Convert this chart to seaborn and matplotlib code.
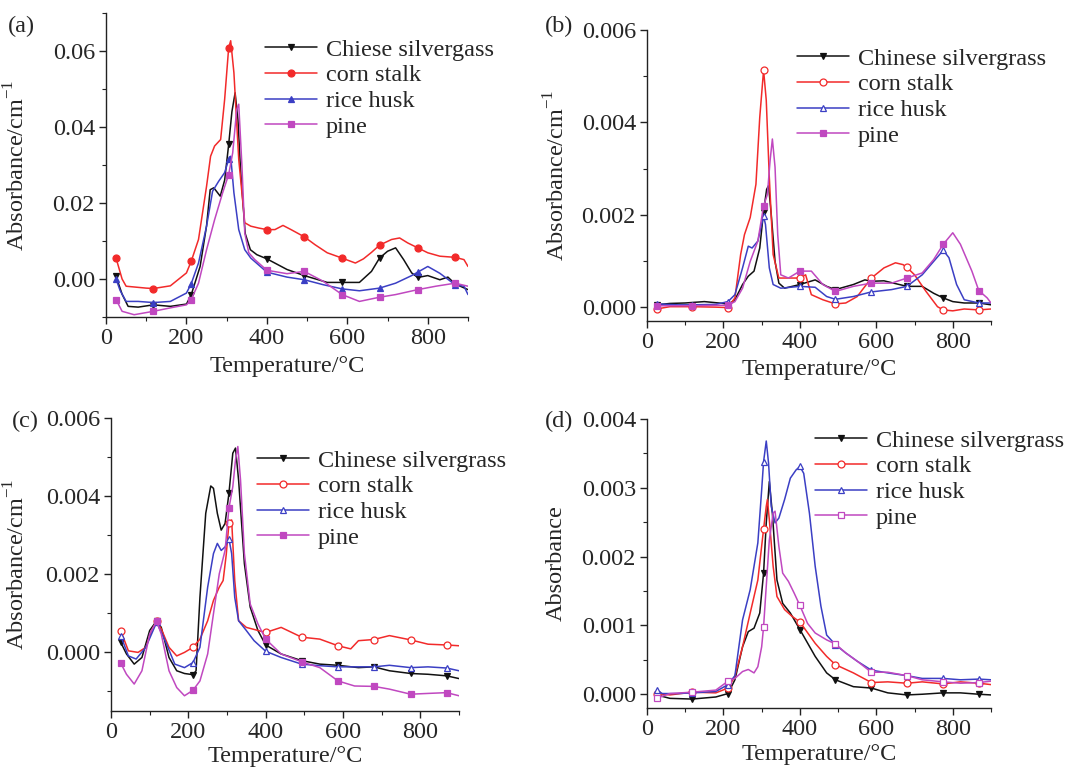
import numpy as np
import matplotlib
matplotlib.use("Agg")
import matplotlib.pyplot as plt
from matplotlib.lines import Line2D
from matplotlib.ticker import MultipleLocator, FormatStrFormatter
import seaborn as sns

sns.set_style("ticks")
plt.rcParams['font.family'] = ['Liberation Serif', 'DejaVu Serif']
plt.rcParams['mathtext.fontset'] = 'custom'
plt.rcParams['mathtext.rm'] = 'Liberation Serif'

MARKER_T = [25, 118, 212, 305, 400, 493, 587, 680, 775, 868]
series_names_a = ["Chiese silvergass", "corn stalk", "rice husk", "pine"]
series_names = ["Chinese silvergrass", "corn stalk", "rice husk", "pine"]

# ---------------- panel (a) ----------------
a_silver_T = [25, 40, 55, 80, 118, 160, 200, 212, 234, 250, 259, 268, 284, 295, 305, 313, 321, 328, 334, 346, 359, 375, 400, 450, 493, 550, 587, 630, 660, 680, 700, 720, 740, 760, 775, 800, 830, 850, 868, 900]
a_silver = [0.0007, -0.004, -0.0072, -0.0074, -0.0068, -0.0072, -0.0066, -0.0041, 0.0033, 0.014, 0.0235, 0.024, 0.0218, 0.026, 0.0354, 0.044, 0.049, 0.042, 0.0297, 0.012, 0.0077, 0.0064, 0.0053, 0.0025, 0.0009, -0.0009, -0.0009, -0.0009, 0.002, 0.0055, 0.0073, 0.0082, 0.0051, 0.0016, 0.0004, 0.0009, -0.0002, 0.0005, -0.0013, -0.0028]
a_corn_T = [25, 40, 50, 100, 118, 160, 200, 212, 230, 250, 260, 270, 285, 295, 305, 310, 318, 330, 345, 360, 380, 400, 420, 440, 460, 493, 520, 550, 587, 620, 640, 660, 680, 710, 730, 750, 775, 800, 830, 868, 890, 900]
a_corn = [0.0055, 0.000, -0.0019, -0.0024, -0.0025, -0.0018, 0.0016, 0.0047, 0.0104, 0.0244, 0.0323, 0.035, 0.0367, 0.0473, 0.0609, 0.0627, 0.0543, 0.0315, 0.0148, 0.0139, 0.0134, 0.013, 0.013, 0.0141, 0.013, 0.0111, 0.009, 0.0069, 0.0055, 0.0042, 0.0053, 0.007, 0.0089, 0.0104, 0.0108, 0.0095, 0.0082, 0.0069, 0.006, 0.0057, 0.0051, 0.0033]
a_rice_T = [25, 35, 50, 80, 118, 160, 200, 212, 230, 250, 265, 280, 295, 305, 310, 318, 330, 345, 360, 400, 450, 493, 540, 587, 630, 680, 720, 760, 775, 800, 830, 868, 890, 900]
a_rice = [0.0, -0.003, -0.0059, -0.0059, -0.0062, -0.0059, -0.0037, -0.0012, 0.0042, 0.0139, 0.0231, 0.0257, 0.028, 0.0315, 0.0323, 0.0227, 0.013, 0.0077, 0.0055, 0.0018, 0.0005, -0.0002, -0.0015, -0.0026, -0.0031, -0.0024, -0.0011, 0.0009, 0.0018, 0.0033, 0.0015, -0.0015, -0.0019, -0.0041]
a_pine_T = [25, 40, 70, 118, 160, 200, 212, 230, 250, 270, 290, 305, 315, 325, 330, 338, 345, 355, 370, 400, 450, 493, 540, 587, 630, 680, 720, 775, 820, 868, 900]
a_pine = [-0.0054, -0.0085, -0.0094, -0.0085, -0.0076, -0.0068, -0.0054, -0.0011, 0.0077, 0.0156, 0.0227, 0.0275, 0.0332, 0.0446, 0.046, 0.0297, 0.0121, 0.0069, 0.0051, 0.0023, 0.0014, 0.002, -0.0006, -0.0041, -0.0059, -0.0048, -0.0041, -0.0028, -0.0019, -0.0011, -0.0019]

# ---------------- panel (b) ----------------
b_silver_T = [25, 60, 100, 150, 200, 212, 230, 250, 265, 280, 295, 305, 313, 318, 325, 335, 345, 360, 400, 440, 470, 493, 540, 570, 587, 620, 680, 720, 750, 775, 800, 830, 868, 900]
b_silver = [0.00005, 0.00008, 0.00009, 0.00012, 0.00008, 0.00005, 0.00016, 0.00049, 0.00067, 0.00078, 0.00128, 0.00207, 0.00255, 0.00263, 0.00201, 0.00099, 0.00052, 0.00041, 0.00049, 0.00059, 0.00045, 0.00038, 0.00049, 0.00059, 0.00056, 0.00057, 0.00045, 0.00045, 0.0003, 0.0002, 0.00012, 0.00009, 0.00009, 0.00005]
b_corn_T = [25, 60, 118, 180, 212, 230, 245, 255, 270, 285, 295, 305, 312, 320, 330, 345, 370, 400, 415, 430, 460, 493, 520, 550, 587, 620, 650, 670, 680, 700, 730, 760, 775, 800, 830, 868, 900]
b_corn = [-0.00004, 0.00001, 0.00001, 0.0, -0.00001, 0.0002, 0.00114, 0.00157, 0.00194, 0.00266, 0.00411, 0.00513, 0.00448, 0.00281, 0.00114, 0.00063, 0.00063, 0.00063, 0.0007, 0.00027, 0.00016, 0.00007, 0.00009, 0.00023, 0.00063, 0.00085, 0.00096, 0.00092, 0.00086, 0.0007, 0.00034, 0.00001, -0.00006, -0.00008, -0.00004, -0.00006, -0.00004]
b_rice_T = [25, 80, 118, 180, 212, 230, 250, 265, 275, 290, 305, 310, 320, 330, 350, 400, 440, 470, 493, 540, 587, 640, 680, 720, 750, 775, 790, 810, 830, 868, 900]
b_rice = [0.00007, 0.00005, 0.00005, 0.00006, 0.00012, 0.00027, 0.00085, 0.00132, 0.00128, 0.00143, 0.00197, 0.00179, 0.00085, 0.00049, 0.00041, 0.00045, 0.00043, 0.00023, 0.00017, 0.00023, 0.00033, 0.00038, 0.00045, 0.0007, 0.00099, 0.00123, 0.00107, 0.00049, 0.00016, 0.00009, 0.00009]
b_pine_T = [25, 80, 118, 180, 212, 230, 250, 270, 290, 305, 315, 322, 328, 335, 342, 350, 370, 400, 430, 460, 493, 540, 587, 640, 680, 720, 750, 775, 800, 820, 850, 868, 890, 900]
b_pine = [0.00003, 0.00003, 0.00003, 0.00004, 0.00004, 0.00012, 0.00041, 0.00099, 0.00143, 0.00219, 0.00244, 0.00317, 0.00364, 0.00303, 0.00157, 0.0007, 0.00063, 0.00078, 0.00078, 0.00049, 0.00034, 0.00045, 0.00052, 0.00052, 0.00063, 0.00074, 0.00103, 0.00136, 0.00161, 0.00136, 0.00078, 0.00036, 0.0002, 0.00009]

# ---------------- panel (c) ----------------
c_silver_T = [25, 40, 60, 80, 100, 118, 130, 150, 170, 190, 212, 220, 230, 245, 258, 265, 275, 285, 295, 305, 315, 322, 330, 345, 360, 380, 400, 440, 493, 540, 587, 640, 680, 720, 775, 820, 868, 900]
c_silver = [0.00026, -0.00004, -0.0003, -0.00013, 0.00056, 0.00081, 0.00064, -0.00013, -0.00047, -0.00054, -0.00057, -0.00047, 0.00141, 0.00356, 0.00426, 0.0042, 0.00356, 0.00313, 0.0033, 0.00407, 0.0051, 0.00523, 0.00441, 0.00227, 0.00116, 0.00056, 0.00019, -0.00004, -0.00021, -0.0003, -0.00033, -0.00039, -0.00037, -0.00047, -0.00054, -0.00056, -0.0006, -0.00067]
c_corn_T = [25, 45, 70, 90, 105, 118, 130, 150, 170, 190, 212, 230, 250, 265, 280, 290, 298, 305, 312, 320, 330, 350, 400, 440, 493, 540, 587, 620, 640, 680, 720, 775, 820, 868, 900]
c_corn = [0.00056, 0.00004, 0.0, 0.00013, 0.00056, 0.0008, 0.0006, 0.00013, -0.00009, 0.0, 0.00013, 0.00034, 0.00081, 0.00133, 0.00167, 0.00184, 0.0025, 0.0033, 0.00339, 0.00184, 0.00081, 0.00064, 0.00051, 0.00064, 0.00039, 0.00034, 0.00017, 0.00009, 0.0003, 0.00033, 0.00043, 0.00032, 0.00021, 0.00019, 0.00017]
c_rice_T = [25, 45, 65, 90, 118, 140, 165, 190, 212, 230, 250, 265, 275, 285, 295, 305, 312, 320, 330, 350, 370, 400, 440, 493, 540, 587, 640, 680, 720, 775, 820, 868, 900]
c_rice = [0.00043, -0.00009, -0.00017, 0.00013, 0.00077, 0.0003, -0.0003, -0.00039, -0.00026, 0.00013, 0.00167, 0.00253, 0.00279, 0.00261, 0.0027, 0.00291, 0.00253, 0.00141, 0.00081, 0.00056, 0.0003, 0.00003, -0.00013, -0.0003, -0.00034, -0.00037, -0.00037, -0.00037, -0.00033, -0.00039, -0.00037, -0.0004, -0.00047]
c_pine_T = [25, 40, 60, 80, 100, 118, 130, 150, 170, 190, 212, 230, 250, 265, 280, 295, 305, 315, 322, 328, 335, 345, 360, 380, 400, 440, 493, 540, 587, 630, 680, 720, 775, 820, 868, 900]
c_pine = [-0.00027, -0.00056, -0.00081, -0.00047, 0.00047, 0.0008, 0.00047, -0.00047, -0.0009, -0.00111, -0.00097, -0.00073, -0.00004, 0.00099, 0.00201, 0.00261, 0.00369, 0.00424, 0.00493, 0.00527, 0.00441, 0.00253, 0.00124, 0.00073, 0.00034, -0.00004, -0.00024, -0.00039, -0.00073, -0.00086, -0.00087, -0.00094, -0.00107, -0.00105, -0.00103, -0.00111]

# ---------------- panel (d) ----------------
d_silver_T = [25, 60, 118, 180, 212, 230, 250, 265, 280, 295, 305, 312, 320, 328, 340, 355, 375, 400, 440, 470, 493, 540, 587, 630, 680, 720, 775, 820, 868, 900]
d_silver = [-0.00001, -0.00006, -0.00007, -0.00004, 0.00001, 0.00021, 0.00069, 0.00091, 0.00096, 0.00118, 0.00176, 0.00249, 0.00309, 0.00263, 0.00166, 0.00132, 0.00118, 0.00094, 0.00055, 0.00031, 0.00021, 0.00011, 0.00009, 0.00002, -0.00001, 0.0, 0.00002, 0.00002, 0.0, -0.00001]
d_corn_T = [25, 60, 118, 180, 212, 230, 250, 270, 290, 305, 312, 315, 320, 330, 340, 360, 380, 400, 440, 470, 493, 540, 587, 630, 680, 720, 775, 820, 868, 900]
d_corn = [0.00001, -0.00001, 0.00003, 0.00002, 0.00009, 0.00026, 0.00069, 0.00118, 0.00166, 0.0024, 0.00273, 0.00283, 0.00254, 0.00186, 0.00142, 0.00123, 0.00113, 0.00105, 0.00074, 0.00055, 0.00043, 0.00031, 0.00017, 0.00018, 0.00016, 0.00018, 0.00015, 0.00018, 0.00016, 0.00014]
d_rice_T = [25, 40, 80, 118, 180, 212, 230, 250, 270, 290, 300, 305, 312, 318, 325, 335, 345, 360, 375, 390, 400, 410, 425, 440, 455, 470, 493, 520, 550, 587, 630, 680, 720, 775, 820, 868, 900]
d_rice = [0.00006, 0.00001, 0.00001, 0.00002, 0.00004, 0.00014, 0.00027, 0.00108, 0.00152, 0.0022, 0.00297, 0.00338, 0.00368, 0.00336, 0.00273, 0.00249, 0.00256, 0.00283, 0.00314, 0.00326, 0.00331, 0.00321, 0.00263, 0.00186, 0.00128, 0.00086, 0.00072, 0.0006, 0.00048, 0.00035, 0.00031, 0.00027, 0.00023, 0.00023, 0.00021, 0.00022, 0.00021]
d_pine_T = [25, 60, 118, 180, 212, 230, 250, 265, 280, 290, 300, 305, 312, 320, 330, 335, 345, 355, 370, 385, 400, 420, 440, 470, 493, 520, 550, 587, 630, 680, 720, 775, 820, 868, 900]
d_pine = [-0.00006, 0.00001, 0.00003, 0.00006, 0.00019, 0.00023, 0.00033, 0.00036, 0.00031, 0.0004, 0.00069, 0.00098, 0.00157, 0.00224, 0.00263, 0.00266, 0.00215, 0.00176, 0.00164, 0.00147, 0.00129, 0.00103, 0.00089, 0.00079, 0.00073, 0.0006, 0.00048, 0.00032, 0.00032, 0.00027, 0.00021, 0.00018, 0.00016, 0.00017, 0.00019]

COLORS = ["#111111", "#F22A2A", "#3B3FC4", "#C048C0"]
MARKERS = ["v", "o", "^", "s"]
# fill style per panel: True = filled
FILLED = {
    "a": [True, True, True, True],
    "b": [True, False, False, True],
    "c": [True, False, False, True],
    "d": [True, False, False, False],
}

fig = plt.figure(figsize=(10.71, 7.67), dpi=100)
W, H = 1071, 767


def add_ax(l, r, b, t):
    return fig.add_axes([l / W, 1 - b / H, (r - l) / W, (b - t) / H])


panels = {
    "a": dict(box=(106, 468, 317, 13), ylim=(-0.01, 0.07), major=0.02, fmt="%.2f",
              data=[(a_silver_T, a_silver), (a_corn_T, a_corn), (a_rice_T, a_rice), (a_pine_T, a_pine)],
              names=series_names_a, ylabel=r"Absorbance/cm$^{\mathregular{-1}}$",
              ylab_x=-0.21, leg=(255, 29), tag=(8, 26), xpad=5),
    "b": dict(box=(647, 991, 321, 30), ylim=(-0.0003, 0.006), major=0.002, fmt="%.3f",
              data=[(b_silver_T, b_silver), (b_corn_T, b_corn), (b_rice_T, b_rice), (b_pine_T, b_pine)],
              names=series_names, ylabel=r"Absorbance/cm$^{\mathregular{-1}}$",
              ylab_x=-0.224, leg=(787, 38), tag=(545, 26), xpad=4),
    "c": dict(box=(111, 459, 711, 418), ylim=(-0.0015, 0.006), major=0.002, fmt="%.3f",
              data=[(c_silver_T, c_silver), (c_corn_T, c_corn), (c_rice_T, c_rice), (c_pine_T, c_pine)],
              names=series_names, ylabel=r"Absorbance/cm$^{\mathregular{-1}}$",
              ylab_x=-0.235, leg=(247, 440), tag=(12, 421), xpad=2),
    "d": dict(box=(647, 991, 708, 419), ylim=(-0.0002, 0.004), major=0.001, fmt="%.3f",
              data=[(d_silver_T, d_silver), (d_corn_T, d_corn), (d_rice_T, d_rice), (d_pine_T, d_pine)],
              names=series_names, ylabel="Absorbance",
              ylab_x=-0.232, leg=(805, 420), tag=(545, 421), xpad=3),
}

FS = 17.5
for key, p in panels.items():
    l, r, b, t = p["box"]
    ax = add_ax(l, r, b, t)
    handles = []
    for i, (T, v) in enumerate(p["data"]):
        idx = [k for k, tt in enumerate(T) if tt in MARKER_T]
        mfc = COLORS[i] if FILLED[key][i] else "white"
        sns.lineplot(x=T, y=v, ax=ax, color=COLORS[i], lw=1.1, sort=False,
                     estimator=None, marker=MARKERS[i], markevery=idx,
                     markersize=5, markerfacecolor=mfc, markeredgecolor=COLORS[i],
                     markeredgewidth=0.9, legend=False)
        handles.append(Line2D([0, 1], [0, 0], color=COLORS[i], lw=1.1, marker=MARKERS[i],
                              markersize=5, markerfacecolor=mfc, markeredgecolor=COLORS[i],
                              markeredgewidth=0.9))
    ax.set_xlim(0, 900)
    ax.set_ylim(*p["ylim"])
    ax.xaxis.set_major_locator(MultipleLocator(200))
    ax.xaxis.set_minor_locator(MultipleLocator(100))
    ax.yaxis.set_major_locator(MultipleLocator(p["major"]))
    ax.yaxis.set_minor_locator(MultipleLocator(p["major"] / 2))
    ax.yaxis.set_major_formatter(FormatStrFormatter(p["fmt"]))
    for s in ["top", "right"]:
        ax.spines[s].set_visible(False)
    for s in ["left", "bottom"]:
        ax.spines[s].set_color("#222222")
        ax.spines[s].set_linewidth(1.0)
    ax.tick_params(which="major", direction="out", length=5, width=1.0, labelsize=FS, color="#222222", pad=3)
    ax.tick_params(which="minor", direction="out", length=3, width=0.8, color="#222222")
    ax.set_xlabel("Temperature/°C", fontsize=FS, labelpad=p["xpad"])
    ax.set_ylabel(p["ylabel"], fontsize=FS)
    ax.yaxis.set_label_coords(p["ylab_x"], 0.5)
    ax.legend(handles, p["names"], loc="upper left",
              bbox_to_anchor=(p["leg"][0] / W, 1 - p["leg"][1] / H),
              bbox_transform=fig.transFigure, frameon=False, fontsize=FS,
              handlelength=2.15, handletextpad=0.36, labelspacing=0.15,
              borderaxespad=0.0, borderpad=0.4, numpoints=1)
    fig.text(p["tag"][0] / W, 1 - p["tag"][1] / H, f"({key})", fontsize=FS,
             ha="left", va="center")

fig.savefig("out.png", dpi=100)
